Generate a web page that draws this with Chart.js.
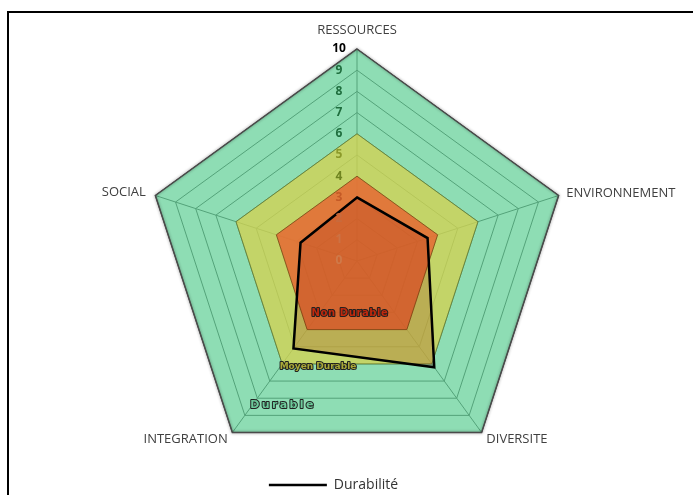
<!DOCTYPE html>
<html>
<head>
<meta charset="utf-8">
<script src="https://cdn.jsdelivr.net/npm/chart.js@4/dist/chart.umd.min.js"></script>
<style>
  html, body { margin: 0; padding: 0; background: #fff; overflow: hidden; }
  #wrap { position: absolute; left: 0; top: 0; width: 693px; height: 502px; }
  #cadre { position: absolute; left: 7px; top: 11px; width: 720px; height: 520px; border: 2px solid #000; pointer-events: none; }
</style>
</head>
<body>
<div id="wrap"><canvas id="radar"></canvas></div>
<div id="cadre"></div>
<script>
// Critères du diagnostic
const criteres = ['RESSOURCES', 'ENVIRONNEMENT', 'DIVERSITE', 'INTEGRATION', 'SOCIAL'];

// Résultat de l'exploitation
const durabilite = [3, 3.5, 6.2, 5.1, 2.8];

// Zones de référence
const nonDurable = [4, 4, 4, 4, 4];
const moyenDurable = [6, 6, 6, 6, 6];
const durable = [10, 10, 10, 10, 10];

// Graduations
const graduations = [0, 1, 2, 3, 4, 5, 6, 7, 8, 9, 10];
const couleursGraduations = ['#cf7a4a', '#cc7244', '#c96a3c', '#c45a26', '#6f8420', '#8c9a2a',
    '#1f6e3e', '#1f6e3e', '#1f6e3e', '#1f6e3e', '#000000'];

// Ecart des libellés d'axes (px au-delà de 10)
const margesLibelles = [12, 8, 8, 8, 10];

// Libellés, graduations et noms des zones (dessinés par un plugin)
const pluginEtiquettes = {
    id: 'etiquettes',
    afterLayout(chart) {
        // décaler la légende vers la gauche
        chart.legend.left -= 13;
        chart.legend.right -= 13;
    },
    beforeDatasetDraw(chart, args) {
        // ombre autour du contour extérieur
        if (args.index === 3) {
            chart.ctx.save();
            chart.ctx.shadowColor = 'rgba(0,0,0,0.45)';
            chart.ctx.shadowBlur = 3;
        }
    },
    afterDatasetDraw(chart, args) {
        if (args.index === 3) chart.ctx.restore();
    },
    afterDatasetsDraw(chart) {
        const ctx = chart.ctx;
        const s = chart.scales.r;
        const u = s.getDistanceFromCenterForValue(1);

        ctx.save();

        // libellés des axes
        ctx.font = '13px "Open Sans"';
        ctx.fillStyle = '#404040';
        criteres.forEach((c, i) => {
            const p = s.getPointPosition(i, s.drawingArea + margesLibelles[i]);
            const dx = p.x - s.xCenter;
            ctx.textAlign = Math.abs(dx) < 1 ? 'center' : (dx > 0 ? 'left' : 'right');
            ctx.textBaseline = i === 0 ? 'bottom' : 'middle';
            ctx.fillText(c, p.x, p.y);
        });

        // graduations
        ctx.font = 'bold 12px "Open Sans"';
        ctx.textAlign = 'center';
        ctx.textBaseline = 'middle';
        graduations.forEach((v, i) => {
            ctx.fillStyle = couleursGraduations[i];
            ctx.fillText(String(v), s.xCenter - 18, s.yCenter - s.getDistanceFromCenterForValue(v));
        });

        // noms des zones
        const zones = [
            { txt: 'Non Durable', dx: -0.33, dy: 2.47, fill: '#c0280c', font: 'bold 10px "DejaVu Sans"', esp: '0.6px' },
            { txt: 'Moyen Durable', dx: -1.84, dy: 5.0, fill: '#a8a838', font: 'bold 9px "DejaVu Sans"', esp: '0px' },
            { txt: 'Durable', dx: -3.49, dy: 6.78, fill: '#6cc99a', font: 'bold 11px "DejaVu Sans"', esp: '2.4px' }
        ];
        zones.forEach(z => {
            ctx.font = z.font;
            ctx.letterSpacing = z.esp;
            ctx.lineWidth = 2;
            ctx.strokeStyle = '#202020';
            ctx.lineJoin = 'round';
            const x = s.xCenter + z.dx * u;
            const y = s.yCenter + z.dy * u;
            ctx.strokeText(z.txt, x, y);
            ctx.fillStyle = z.fill;
            ctx.fillText(z.txt, x, y);
        });
        ctx.restore();
    }
};

const data = {
    labels: criteres,
    datasets: [
        {
            label: 'Durabilité',
            data: durabilite,
            borderColor: '#000000',
            borderWidth: 2.5,
            backgroundColor: 'rgba(150,20,0,0.2)',
            fill: 'origin',
            pointRadius: 0,
            pointStyle: 'line'
        },
        {
            label: 'Non Durable',
            data: nonDurable,
            borderColor: 'rgba(120,70,20,0.8)',
            borderWidth: 1,
            backgroundColor: 'rgba(231,97,47,0.8)',
            fill: 'origin',
            pointRadius: 0
        },
        {
            label: 'Moyen Durable',
            data: moyenDurable,
            borderColor: 'rgba(100,120,50,0.8)',
            borderWidth: 1,
            backgroundColor: 'rgba(214,209,79,0.75)',
            fill: 'origin',
            pointRadius: 0
        },
        {
            label: 'Durable',
            data: durable,
            borderColor: '#4a4a4a',
            borderWidth: 1.5,
            backgroundColor: 'rgba(94,206,148,0.7)',
            fill: 'origin',
            pointRadius: 0
        }
    ]
};

new Chart(document.getElementById('radar'), {
    type: 'radar',
    data: data,
    options: {
        responsive: true,
        maintainAspectRatio: false,
        animation: false,
        plugins: {
            legend: {
                position: 'bottom',
                labels: {
                    filter: item => item.text === 'Durabilité',
                    usePointStyle: true,
                    pointStyleWidth: 58,
                    padding: 0,
                    color: '#333333',
                    font: { family: 'Open Sans', size: 14 }
                }
            },
            tooltip: { enabled: false }
        },
        scales: {
            r: {
                min: 0,
                max: 10,
                ticks: { display: false, stepSize: 1 },
                grid: { color: 'rgb(60,60,60)', lineWidth: 1 },
                angleLines: { color: 'rgb(60,60,60)', lineWidth: 1 },
                pointLabels: { display: false },
                // centre et rayon du radar comme sur l'original
                afterFit: scale => {
                    scale.xCenter = 357;
                    scale.yCenter = 261;
                    scale.drawingArea = 212;
                }
            }
        }
    },
    plugins: [pluginEtiquettes]
});
</script>
</body>
</html>
